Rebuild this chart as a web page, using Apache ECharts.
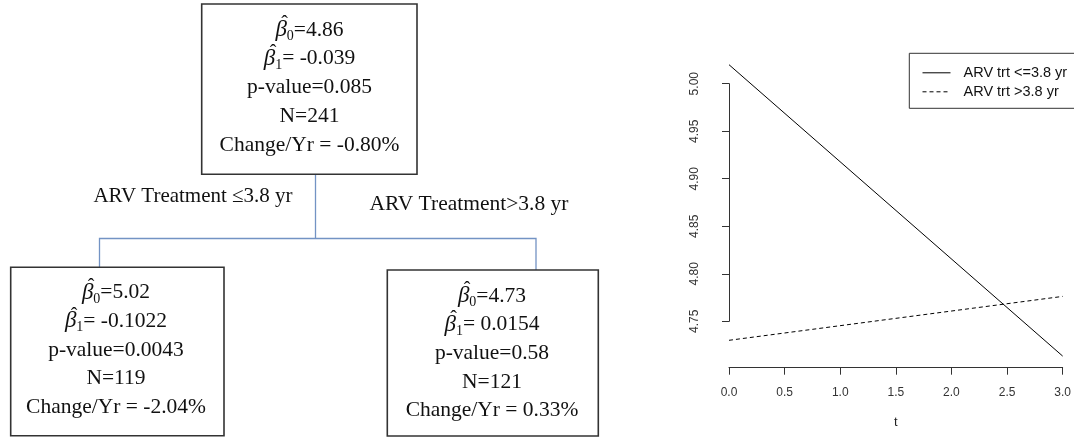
<!DOCTYPE html>
<html>
<head>
<meta charset="utf-8">
<script src="https://cdn.jsdelivr.net/npm/echarts@6/dist/echarts.min.js"></script>
<style>
html,body{margin:0;padding:0;background:#fff;}
#chart{width:1074px;height:438px;}
</style>
</head>
<body>
<div id="chart"></div>
<script>
// ---- Tree node statistics ----
const nodeBeta0 = ['4.86', '5.02', '4.73'];
const nodeBeta1 = [' -0.039', ' -0.1022', ' 0.0154'];
const nodePValue = ['0.085', '0.0043', '0.58'];
const nodeN = ['241', '119', '121'];
const nodeChange = ['-0.80%', '-2.04%', '0.33%'];
const splitLabels = ['ARV Treatment \u22643.8 yr', 'ARV Treatment>3.8 yr'];

// ---- Fitted lines ----
const seriesNames = ['ARV trt <=3.8 yr', 'ARV trt >3.8 yr'];
const tValues = [0, 3];
const shortTrtValues = [5.02, 4.7134];
const longTrtValues = [4.73, 4.7762];
const xTicks = [0, 0.5, 1, 1.5, 2, 2.5, 3];
const yTicks = [4.75, 4.80, 4.85, 4.90, 4.95, 5.00];

const serif = '"Liberation Serif", "Times New Roman", serif';
const sans = '"Liberation Sans", Arial, Helvetica, sans-serif';
const FS = 21.5, SUBFS = 14, LH = 28.7;

const mctx = document.createElement('canvas').getContext('2d');
function measure(text, font) { mctx.font = font; return mctx.measureText(text).width; }

function nodeText(i) {
  return [
    '{b|\u03B2}{s|0}{t|=' + nodeBeta0[i] + '}',
    '{b|\u03B2}{s|1}{t|=' + nodeBeta1[i] + '}',
    '{t|p-value=' + nodePValue[i] + '}',
    '{t|N=' + nodeN[i] + '}',
    '{t|Change/Yr = ' + nodeChange[i] + '}'
  ].join('\n');
}
const richStyle = {
  b: {fontFamily: serif, fontStyle: 'italic', fontSize: 23, lineHeight: LH, fill: '#111'},
  s: {fontFamily: serif, fontSize: SUBFS, fill: '#111', verticalAlign: 'bottom', padding: [0, 0, 1, 0]},
  t: {fontFamily: serif, fontSize: FS, lineHeight: LH, fill: '#111'}
};

const boxes = [
  {x: 201.7, y: 4, w: 215.3, h: 170.3, cx: 309.5, cy: 87.5},
  {x: 10.7, y: 267.3, w: 213.3, h: 168.4, cx: 116, cy: 350},
  {x: 387.3, y: 270, w: 211, h: 166, cx: 492, cy: 353.3}
];

const graphics = [];
// connectors
graphics.push({type: 'polyline', shape: {points: [[315.5, 174.3], [315.5, 238.5]]}, style: {stroke: '#7393c4', lineWidth: 1.3, fill: null}});
graphics.push({type: 'polyline', shape: {points: [[99.5, 267.3], [99.5, 238.5], [536, 238.5], [536, 270]]}, style: {stroke: '#7393c4', lineWidth: 1.3, fill: null}});
boxes.forEach((b, i) => {
  graphics.push({type: 'rect', shape: {x: b.x, y: b.y, width: b.w, height: b.h}, style: {fill: '#fff', stroke: '#333', lineWidth: 1.6}});
  graphics.push({type: 'text', x: b.cx, y: b.cy, style: {text: nodeText(i), rich: richStyle, align: 'center', verticalAlign: 'middle'}});
  // hats over beta
  [[ '0', '=' + nodeBeta0[i]], ['1', '=' + nodeBeta1[i]]].forEach((parts, k) => {
    const wb = measure('\u03B2', 'italic 23px ' + serif);
    const ws = measure(parts[0], SUBFS + 'px ' + serif);
    const wt = measure(parts[1], FS + 'px ' + serif);
    const W = wb + ws + wt;
    const start = b.cx - W / 2;
    const lineY = b.cy + (k - 2) * LH;
    graphics.push({type: 'text', x: start + wb / 2 + 3.5, y: lineY - 5, style: {text: '\u02C6', font: '20px ' + serif, fill: '#111', align: 'center', verticalAlign: 'middle'}});
  });
});
graphics.push({type: 'text', x: 193, y: 196, style: {text: splitLabels[0], font: '21px ' + serif, fill: '#111', align: 'center', verticalAlign: 'middle'}});
graphics.push({type: 'text', x: 469, y: 204, style: {text: splitLabels[1], font: '21.5px ' + serif, fill: '#111', align: 'center', verticalAlign: 'middle'}});
// legend frame (extends past the right edge as in the reference)
graphics.push({type: 'rect', z: -1, shape: {x: 909.3, y: 53.3, width: 200, height: 55}, style: {fill: '#fff', stroke: '#333', lineWidth: 1}});

const chart = echarts.init(document.getElementById('chart'), null, {renderer: 'canvas'});
chart.setOption({
  animation: false,
  backgroundColor: '#fff',
  grid: {left: 729, right: 11.3, top: 83.7, bottom: 116.7, containLabel: false},
  legend: {
    orient: 'vertical',
    left: 909.3,
    top: 53.3,
    padding: [12, 10, 11, 12.7],
    itemWidth: 28,
    itemHeight: 14,
    itemGap: 4,
    borderWidth: 0,
    data: seriesNames,
    itemStyle: {opacity: 0},
    lineStyle: {width: 1},
    textStyle: {fontFamily: sans, fontSize: 14.5, color: '#111', padding: [0, 0, 0, 8]}
  },
  xAxis: {
    type: 'value',
    min: xTicks[0],
    max: xTicks[xTicks.length - 1],
    interval: 0.5,
    offset: 46.4,
    name: 't',
    nameLocation: 'middle',
    nameGap: 48,
    nameTextStyle: {fontFamily: sans, fontSize: 13, color: '#222'},
    axisLine: {lineStyle: {color: '#333', width: 1}},
    axisTick: {length: 7, lineStyle: {color: '#333'}},
    axisLabel: {fontFamily: sans, fontSize: 12, color: '#333', margin: 18.5, formatter: v => v.toFixed(1)},
    splitLine: {show: false}
  },
  yAxis: {
    type: 'value',
    min: yTicks[0],
    max: yTicks[yTicks.length - 1],
    interval: 0.05,
    offset: 13.3,
    axisLine: {show: true, lineStyle: {color: '#333', width: 1}},
    axisTick: {show: true, length: 7, lineStyle: {color: '#333'}},
    axisLabel: {fontFamily: sans, fontSize: 12, color: '#333', margin: 15, rotate: 90, formatter: v => v.toFixed(2)},
    splitLine: {show: false}
  },
  series: [
    {
      name: seriesNames[0], type: 'line', symbol: 'none', clip: false,
      data: tValues.map((t, i) => [t, shortTrtValues[i]]),
      lineStyle: {color: '#000', width: 1, type: 'solid'},
      itemStyle: {color: '#000'}
    },
    {
      name: seriesNames[1], type: 'line', symbol: 'none', clip: false,
      data: tValues.map((t, i) => [t, longTrtValues[i]]),
      lineStyle: {color: '#000', width: 1, type: [4, 3]},
      itemStyle: {color: '#000'}
    }
  ],
  graphic: graphics
});
</script>
</body>
</html>
